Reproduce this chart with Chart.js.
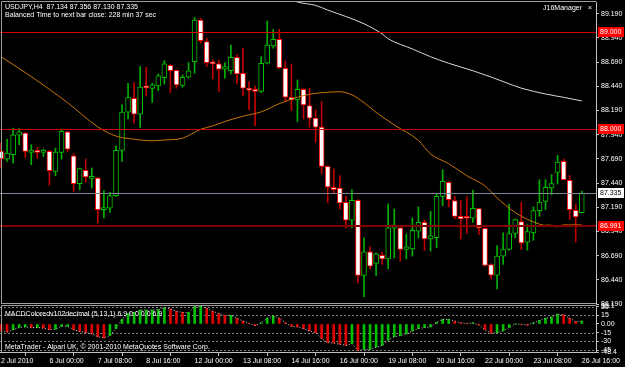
<!DOCTYPE html>
<html>
<head>
<meta charset="utf-8">
<script src="https://cdn.jsdelivr.net/npm/chart.js@4.4.1/dist/chart.umd.min.js"></script>
<style>
  html, body { margin: 0; padding: 0; background: #000; }
  #wrap { position: relative; width: 625px; height: 367px; background: #000; overflow: hidden; }
  #priceBox { position: absolute; left: 0; top: 0; width: 625px; height: 312px; }
  #macdBox { position: absolute; left: 0; top: 298px; width: 625px; height: 69px; }
</style>
</head>
<body>
<div id="wrap">
  <div id="priceBox"><canvas id="priceChart"></canvas></div>
  <div id="macdBox"><canvas id="macdChart"></canvas></div>
</div>
<script>
// ---- data ----
const symbolTitle = "USDJPY,H4  87.134 87.356 87.130 87.335";
const timerText = "Balanced Time to next bar close: 228 min 37 sec";
const panelTitle = "J16Manager";
const macdTitle = "MACDColoredv102decimal (5,13,1) 6.9 0.0 0.0 6.9";
const footerText = "MetaTrader - Alpari UK, \u00a9 2001-2010 MetaQuotes Software Corp.";

const opens = [87.766, 87.687, 87.732, 87.935, 87.955, 87.756, 87.777, 87.756, 87.766, 87.560,
  87.756, 87.969, 87.722, 87.433, 87.570, 87.488, 87.491, 87.165, 87.179, 87.309,
  87.777, 88.172, 88.316, 88.151, 88.433, 88.416, 88.443, 88.529, 88.656, 88.605,
  88.447, 88.533, 88.694, 89.124, 88.900, 88.691, 88.670, 88.615, 88.601, 88.739,
  88.574, 88.419, 88.409, 88.385, 88.677, 88.856, 88.924, 88.625, 88.326, 88.299,
  88.409, 88.241, 88.110, 88.017, 87.612, 87.395, 87.388, 87.241, 87.055, 87.261,
  86.485, 86.729, 86.608, 86.694, 86.656, 86.973, 86.976, 86.753, 86.760, 86.942,
  87.034, 86.863, 86.876, 87.302, 87.447, 87.258, 87.096, 87.082, 87.076, 87.175,
  86.973, 86.598, 86.488, 86.684, 86.753, 86.918, 87.041, 86.828, 86.924, 87.155,
  87.251, 87.388, 87.550, 87.663, 87.467, 87.158, 87.134];
const highs = [87.852, 87.894, 88.007, 88.003, 87.962, 87.835, 87.804, 87.790, 87.777, 87.801,
  87.997, 87.975, 87.742, 87.595, 87.687, 87.595, 87.498, 87.361, 87.344, 87.825,
  88.247, 88.471, 88.478, 88.643, 88.636, 88.471, 88.567, 88.705, 88.663, 88.608,
  88.557, 88.684, 89.150, 89.141, 88.935, 88.711, 88.711, 88.684, 88.866, 88.763,
  88.832, 88.488, 88.443, 88.746, 89.113, 89.027, 89.027, 88.701, 88.670, 88.505,
  88.416, 88.419, 88.196, 88.282, 87.619, 87.584, 87.516, 87.302, 87.371, 87.268,
  86.873, 86.780, 86.718, 86.725, 87.223, 87.172, 86.980, 86.914, 87.079, 87.193,
  87.055, 87.148, 87.330, 87.577, 87.454, 87.302, 87.261, 87.296, 87.364, 87.182,
  86.976, 86.605, 86.794, 86.924, 87.223, 87.069, 87.241, 87.010, 87.193, 87.474,
  87.474, 87.526, 87.725, 87.687, 87.519, 87.223, 87.356];
const lows = [87.595, 87.663, 87.646, 87.835, 87.704, 87.629, 87.694, 87.715, 87.416, 87.516,
  87.687, 87.766, 87.354, 87.371, 87.447, 87.388, 87.028, 87.079, 87.137, 87.302,
  87.663, 88.103, 88.058, 88.014, 88.340, 88.272, 88.395, 88.464, 88.375, 88.419,
  88.430, 88.526, 88.574, 88.890, 88.643, 88.516, 88.385, 88.522, 88.567, 88.464,
  88.340, 88.196, 88.031, 88.375, 88.670, 88.832, 88.625, 88.282, 88.189, 88.076,
  88.103, 88.017, 87.859, 87.536, 87.234, 87.337, 87.172, 86.976, 86.976, 86.409,
  86.265, 86.553, 86.485, 86.598, 86.553, 86.667, 86.632, 86.656, 86.684, 86.873,
  86.746, 86.735, 86.770, 87.206, 87.193, 87.069, 86.863, 86.918, 87.034, 86.907,
  86.581, 86.450, 86.347, 86.598, 86.746, 86.873, 86.753, 86.746, 86.849, 87.096,
  87.165, 87.320, 87.430, 87.470, 87.062, 86.828, 87.130];
const closes = [87.691, 87.749, 87.938, 87.969, 87.766, 87.780, 87.756, 87.780, 87.567, 87.760,
  87.973, 87.790, 87.433, 87.588, 87.502, 87.498, 87.165, 87.182, 87.309, 87.777,
  88.172, 88.323, 88.151, 88.430, 88.423, 88.454, 88.546, 88.670, 88.601, 88.454,
  88.533, 88.598, 89.124, 88.911, 88.684, 88.670, 88.615, 88.643, 88.739, 88.567,
  88.419, 88.399, 88.385, 88.677, 88.866, 88.924, 88.632, 88.326, 88.299, 88.409,
  88.247, 88.110, 88.017, 87.612, 87.399, 87.371, 87.234, 87.055, 87.261, 86.485,
  86.729, 86.581, 86.708, 86.656, 86.976, 86.986, 86.753, 86.780, 86.952, 87.034,
  86.863, 86.894, 87.302, 87.457, 87.268, 87.096, 87.069, 87.076, 87.179, 86.976,
  86.588, 86.488, 86.684, 86.753, 86.918, 87.062, 86.821, 86.938, 87.155, 87.244,
  87.395, 87.433, 87.656, 87.474, 87.165, 87.089, 87.335];

// moving averages, sampled at bar numbers
const maOrangeBars = [0, 5, 11, 16, 19, 22, 25, 27, 30, 33, 35, 37, 40, 43, 46, 49, 51, 54, 56, 58,
  60, 62, 65, 69, 71, 74, 77, 80, 82, 85, 87, 89, 90];
const maOrange = [88.745, 88.539, 88.270, 88.020, 87.925, 87.893, 87.876, 87.884, 87.903, 87.995,
  88.030, 88.075, 88.130, 88.175, 88.260, 88.325, 88.357, 88.378, 88.383, 88.351,
  88.270, 88.170, 88.040, 87.880, 87.740, 87.640, 87.515, 87.410, 87.286, 87.135,
  87.065, 87.015, 87.000];
const maTailBars = [90, 92, 93, 96];
const maTail = [87.000, 86.992, 87.000, 87.000];
const maWhiteBars = [47, 49, 52, 54, 57, 60, 63, 64, 68, 71, 74, 78, 81, 83, 86, 90, 93, 96];
const maWhite = [89.360, 89.310, 89.275, 89.227, 89.160, 89.085, 88.980, 88.930, 88.825, 88.745,
  88.677, 88.600, 88.535, 88.488, 88.420, 88.360, 88.325, 88.288];

const macdValues = [-12, -14, -10, -6, -5, -6, -6, -7, -10, -9,
  -4, -4, -10, -13, -15, -17, -22, -24, -20, -8,
  8, 18, 20, 24, 24, 24, 25, 28, 26, 22,
  20, 20, 30, 31, 27, 22, 18, 15, 15, 10,
  5, 1, -3, 2, 10, 14, 10, 2, -4, -5,
  -8, -12, -15, -25, -32, -33, -35, -37, -34, -46,
  -44, -44, -40, -37, -28, -22, -20, -17, -12, -8,
  -6, -5, 3, 8, 8, 5, 2, 1, 2, -2,
  -10, -16, -15, -12, -6, 0, -1, -2, 2, 6,
  10, 12, 17, 16, 10, 4, 5];

const dateTickBars = [0, 8, 16, 24, 32, 40, 48, 56, 64, 72, 80, 88, 96];
const dateTickLabels = ["2 Jul 2010", "6 Jul 00:00", "7 Jul 08:00", "8 Jul 16:00", "12 Jul 00:00",
  "13 Jul 08:00", "14 Jul 16:00", "16 Jul 00:00", "19 Jul 08:00", "20 Jul 16:00",
  "22 Jul 00:00", "23 Jul 08:00", "26 Jul 16:00"];
const priceTicks = [89.190, 88.940, 88.690, 88.440, 88.190, 87.940, 87.690, 87.440, 87.190,
  86.940, 86.690, 86.440, 86.190];
const macdTicks = [31.1, 30, 15, 0, -15, -30, -45, -48.4];
const macdTickLabels = ["31.1", "30", "15", "0.00", "-15", "-30", "-45", "-48.4"];
const macdLevels = [30, 15, -15, -30, -45];

const redLevels = [89.000, 88.000];
const supportLevel = 86.991;
const bidPrice = 87.335;

// ---- shared look ----
const uiFont = { family: "'Liberation Sans', Arial, sans-serif", size: 7 };
const fontStr = "7px 'Liberation Sans', Arial, sans-serif";
const textColor = "#ffffff";
const frameColor = "#a0a0a0";
const xMin = -0.17, xMax = 98.35;

const isUp = opens.map((o, i) => closes[i] >= o);
const bodyData = opens.map((o, i) => ({ x: i, y: [o, closes[i]] }));
const wickData = opens.map((o, i) => ({ x: i, y: [lows[i], highs[i]] }));

function hline(ctx, area, y, color, width, dash) {
  ctx.save();
  ctx.strokeStyle = color;
  ctx.lineWidth = width;
  ctx.setLineDash(dash || []);
  ctx.beginPath();
  ctx.moveTo(area.left, y);
  ctx.lineTo(area.right, y);
  ctx.stroke();
  ctx.restore();
}

function priceTag(ctx, x, y, text, bg, fg) {
  ctx.save();
  ctx.fillStyle = bg;
  ctx.fillRect(x, Math.round(y) - 5, 26, 10);
  ctx.fillStyle = fg;
  ctx.font = fontStr;
  ctx.textBaseline = "middle";
  ctx.fillText(text, x + 2, Math.round(y) + 0.5);
  ctx.restore();
}

const priceDecor = {
  id: "priceDecor",
  afterDatasetsDraw(chart) {
    const { ctx, chartArea: a, scales: { y } } = chart;
    redLevels.forEach(v => hline(ctx, a, Math.round(y.getPixelForValue(v)) + 0.5, "#d00000", 1));
    hline(ctx, a, Math.round(y.getPixelForValue(bidPrice)) + 0.5, "#7c8898", 1);
    hline(ctx, a, Math.round(y.getPixelForValue(supportLevel)), "#800000", 2);
  },
  afterDraw(chart) {
    const { ctx, chartArea: a, scales: { y } } = chart;
    ctx.save();
    ctx.strokeStyle = frameColor;
    ctx.lineWidth = 1;
    ctx.beginPath();
    ctx.moveTo(a.right, 1.5); ctx.lineTo(1.5, 1.5); ctx.lineTo(1.5, a.bottom - 0.5); ctx.lineTo(a.right, a.bottom - 0.5);
    ctx.stroke();
    ctx.font = fontStr;
    ctx.fillStyle = textColor;
    ctx.textBaseline = "middle";
    ctx.fillText(symbolTitle, 5, 7);
    ctx.fillText(timerText, 5, 15);
    ctx.textAlign = "right";
    ctx.fillText(panelTitle, 582, 8);
    ctx.fillText("\u00d7", 592, 8);
    ctx.restore();
    redLevels.forEach(v => priceTag(ctx, a.right + 2, y.getPixelForValue(v), v.toFixed(3), "#ff0000", "#ffffff"));
    priceTag(ctx, a.right + 2, y.getPixelForValue(bidPrice), bidPrice.toFixed(3), "#ffffff", "#000000");
    priceTag(ctx, a.right + 2, y.getPixelForValue(supportLevel), supportLevel.toFixed(3), "#ff0000", "#ffffff");
  }
};

new Chart(document.getElementById("priceChart"), {
  type: "bar",
  data: {
    datasets: [
      { type: "line", data: maWhiteBars.map((b, k) => ({ x: b, y: maWhite[k] })),
        borderColor: "#d8d8d8", borderWidth: 1, pointRadius: 0, cubicInterpolationMode: "monotone" },
      { type: "line", data: maOrangeBars.map((b, k) => ({ x: b, y: maOrange[k] })),
        borderColor: "#c87408", borderWidth: 1, pointRadius: 0, cubicInterpolationMode: "monotone" },
      { type: "line", data: maTailBars.map((b, k) => ({ x: b, y: maTail[k] })),
        borderColor: "#ff8000", borderWidth: 2, pointRadius: 0 },
      { data: bodyData, grouped: false, barThickness: 5, minBarLength: 2, borderSkipped: false, borderWidth: 1,
        backgroundColor: isUp.map(u => u ? "#000000" : "#ffffff"),
        borderColor: isUp.map(u => u ? "#00c000" : "#ff0000") },
      { data: wickData, grouped: false, barThickness: 1,
        backgroundColor: isUp.map(u => u ? "#00b000" : "#c00000") }
    ]
  },
  options: {
    responsive: true, maintainAspectRatio: false, animation: false,
    layout: { padding: { top: 2, bottom: 8, left: 0, right: 0 } },
    plugins: { legend: { display: false }, tooltip: { enabled: false } },
    scales: {
      x: { type: "linear", min: xMin, max: xMax, offset: false, display: false },
      y: {
        position: "right", min: 86.19, max: 89.31,
        afterBuildTicks: s => { s.ticks = priceTicks.map(v => ({ value: v })); },
        afterFit: s => { s.width = 29; s.paddingTop = 0; s.paddingBottom = 0; },
        ticks: { color: textColor, font: uiFont, padding: 2, autoSkip: false, callback: v => v.toFixed(3) },
        grid: { drawOnChartArea: false, tickLength: 3, color: "#c0c0c0" },
        border: { color: "#c0c0c0" }
      }
    }
  },
  plugins: [priceDecor]
});

const macdDecor = {
  id: "macdDecor",
  beforeDatasetsDraw(chart) {
    const { ctx, chartArea: a, scales: { y } } = chart;
    macdLevels.forEach(v => hline(ctx, a, Math.round(y.getPixelForValue(v)) + 0.5, "#808080", 1, [2, 2]));
  },
  afterDraw(chart) {
    const { ctx, chartArea: a } = chart;
    ctx.save();
    ctx.strokeStyle = frameColor;
    ctx.lineWidth = 1;
    ctx.beginPath();
    ctx.moveTo(a.right, a.top - 0.5); ctx.lineTo(1.5, a.top - 0.5); ctx.lineTo(1.5, a.bottom);
    ctx.stroke();
    ctx.font = fontStr;
    ctx.fillStyle = textColor;
    ctx.textBaseline = "middle";
    ctx.fillText(macdTitle, 5, a.top + 8);
    ctx.fillText(footerText, 5, a.bottom - 5);
    ctx.restore();
  }
};

new Chart(document.getElementById("macdChart"), {
  type: "bar",
  data: {
    datasets: [
      { type: "line", data: macdValues.map((v, i) => ({ x: i, y: v })),
        borderColor: "#c8c8c8", borderWidth: 1, borderDash: [1, 2], pointRadius: 0 },
      { data: macdValues.map((v, i) => ({ x: i, y: v })), grouped: false, barThickness: 2,
        backgroundColor: macdValues.map((v, i) => (i > 0 && v >= macdValues[i - 1]) ? "#00c000" : "#e00000") }
    ]
  },
  options: {
    responsive: true, maintainAspectRatio: false, animation: false,
    layout: { padding: { top: 8, bottom: 0, left: 0, right: 0 } },
    plugins: { legend: { display: false }, tooltip: { enabled: false } },
    scales: {
      x: {
        type: "linear", min: xMin, max: xMax, offset: false, position: "bottom",
        afterBuildTicks: s => { s.ticks = dateTickBars.map(v => ({ value: v })); },
        afterFit: s => { s.height = 15; s.paddingLeft = 0; s.paddingRight = 0; },
        ticks: { color: textColor, font: uiFont, padding: 1, align: "start", maxRotation: 0, autoSkip: false,
          callback: (v, i) => dateTickLabels[i] },
        grid: { drawOnChartArea: false, tickLength: 4, color: "#c0c0c0" },
        border: { color: "#c0c0c0" }
      },
      y: {
        position: "right", min: -48.4, max: 31.1,
        afterBuildTicks: s => { s.ticks = macdTicks.map(v => ({ value: v })); },
        afterFit: s => { s.width = 29; s.paddingTop = 0; s.paddingBottom = 0; },
        ticks: { color: textColor, font: uiFont, padding: 2, autoSkip: false, callback: (v, i) => macdTickLabels[i] },
        grid: { drawOnChartArea: false, tickLength: 3, color: "#c0c0c0" },
        border: { color: "#c0c0c0" }
      }
    }
  },
  plugins: [macdDecor]
});
</script>
</body>
</html>
